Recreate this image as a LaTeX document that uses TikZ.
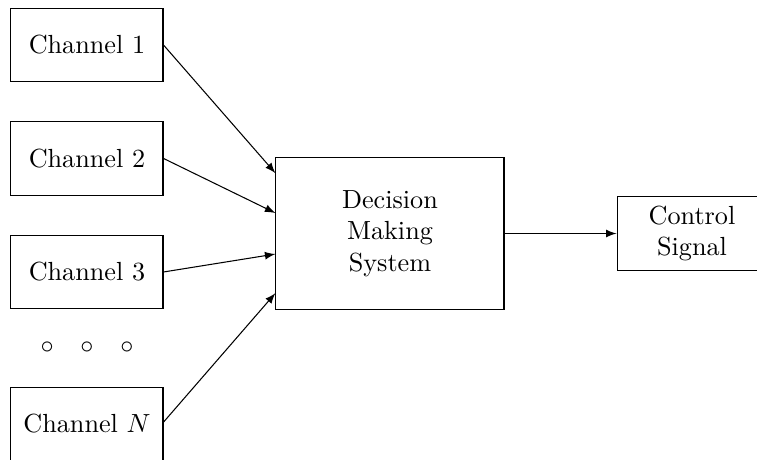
\documentclass[tikz,border=0pt]{standalone}
\usetikzlibrary{positioning}
\tikzset{
  chbox/.style={draw,minimum width=2.04cm,minimum height=0.99cm,inner sep=0pt},
  dmbox/.style={draw,minimum width=3.06cm,minimum height=2.03cm,align=center,inner sep=0pt},
  outbox/.style={draw,minimum width=2.01cm,minimum height=1.0cm,align=center,inner sep=0pt}
}
\begin{document}
\begin{tikzpicture}[>=latex,x=1cm,y=1cm]
\useasboundingbox (0,0) rectangle (10.156,6.158);
\def\cx{1.167} % cot cac kenh
% cac kenh vao
\node[chbox] (ch1) at (\cx,5.554) {Channel 1};
\node[chbox] (ch2) at (\cx,4.032) {Channel 2};
\node[chbox] (ch3) at (\cx,2.509) {Channel 3};
\node (dots) at (\cx,1.489) {$\circ\hspace{8pt}\circ\hspace{8pt}\circ$};
\node[chbox] (chN) at (\cx,0.47) {Channel $N$};
% he quyet dinh va dau ra
\node[dmbox] (dms) at (5.232,3.025) {Decision\\Making\\System};
\node[outbox] (ctrl) at (9.284,3.025) {Control\\Signal};
\draw[->] (ch1.east) -- ([yshift=0.81cm]dms.west);
\draw[->] (ch2.east) -- ([yshift=0.275cm]dms.west);
\draw[->] (ch3.east) -- ([yshift=-0.275cm]dms.west);
\draw[->] ([yshift=0.025cm]chN.east) -- ([yshift=-0.8cm]dms.west);
\draw[->] (dms) -- (ctrl);
\end{tikzpicture}
\end{document}
